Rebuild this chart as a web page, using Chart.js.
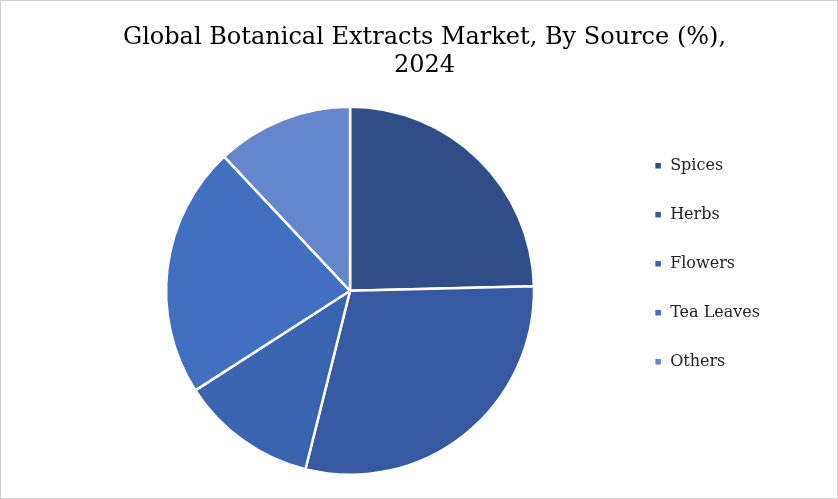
<!DOCTYPE html>
<html>
<head>
<script src="https://cdn.jsdelivr.net/npm/chart.js@4"></script>
<style>
  body { margin: 0; background: #fff; }
  #wrap { width: 836px; height: 497px; border: 1px solid #d0d0d0; position: relative; }
</style>
</head>
<body>
<div id="wrap"><canvas id="myChart"></canvas></div>
<script>
const categories = ['Spices', 'Herbs', 'Flowers', 'Tea Leaves', 'Others'];
const shares = [24.6, 29.3, 12.0, 22.1, 12.0];
const colors = ['#2F4E88', '#3659A1', '#3A64B0', '#4170C0', '#6586CA'];

window.onload = () => {
    const ctx = document.getElementById('myChart').getContext('2d');
    new Chart(ctx, {
        type: 'pie',
        data: {
            labels: categories,
            datasets: [{
                data: shares,
                backgroundColor: colors,
                borderColor: '#ffffff',
                borderWidth: 2.5
            }]
        },
        options: {
            responsive: true,
            maintainAspectRatio: false,
            animation: false,
            layout: { padding: { left: 78, right: 67, top: 6, bottom: 22 } },
            plugins: {
                title: {
                    display: true,
                    text: ['Global Botanical Extracts Market, By Source (%),', '2024'],
                    color: '#000',
                    font: { family: 'DejaVu Serif', size: 24, weight: 'normal' },
                    padding: { top: 16, bottom: 25 }
                },
                legend: {
                    position: 'right',
                    title: { display: true, text: ' ', padding: { top: 30, bottom: 0 } },
                    labels: {
                        boxWidth: 8,
                        boxHeight: 8,
                        padding: 33,
                        color: '#222',
                        font: { family: 'DejaVu Serif', size: 16 }
                    }
                },
                tooltip: { enabled: false }
            }
        }
    });
};
</script>
</body>
</html>
